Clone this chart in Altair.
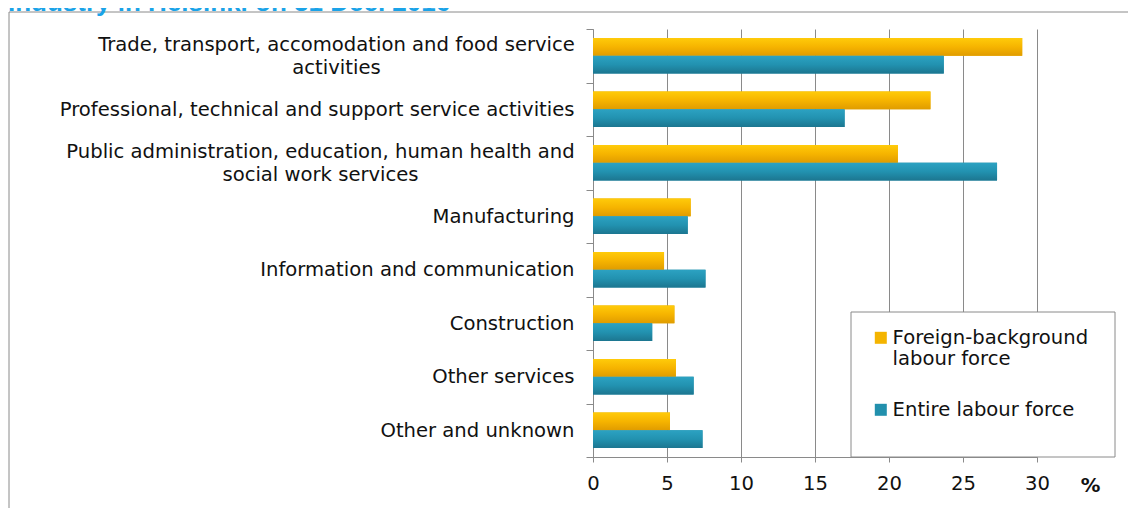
import altair as alt
import pandas as pd

# ---------------- data ----------------
categories = [
    "Trade, transport, accomodation and food service activities",
    "Professional, technical and support service activities",
    "Public administration, education, human health and social work services",
    "Manufacturing",
    "Information and communication",
    "Construction",
    "Other services",
    "Other and unknown",
]
series = ["Foreign-background labour force", "Entire labour force"]
foreign = [29.0, 22.8, 20.6, 6.6, 4.8, 5.5, 5.6, 5.2]
entire = [23.7, 17.0, 27.3, 6.4, 7.6, 4.0, 6.8, 7.4]
x_ticks = [0, 5, 10, 15, 20, 25, 30]
title_text = "Industry in Helsinki on 31 Dec. 2016"
unit_label = "%"

colors = ["#F4B400", "#2290AD"]
grad_stops = {
    series[0]: ["#FFCB0A", "#F6B400", "#E09C00"],
    series[1]: ["#2CA2C2", "#2292B0", "#1C7690"],
}

rows = []
for i, c in enumerate(categories):
    rows.append({"category": c, "series": series[0], "value": foreign[i]})
    rows.append({"category": c, "series": series[1], "value": entire[i]})
df = pd.DataFrame(rows)
one = pd.DataFrame({"k": [0]})

# wrapped y labels: lines and half-width of the first line (for centring)
wrapped = {
    categories[0]: (["Trade, transport, accomodation and food service", "activities"], 238),
    categories[2]: (["Public administration, education, human health and", "social work services"], 254),
}


def js_list(lines):
    return "[" + ", ".join("'" + s + "'" for s in lines) + "]"


label_expr = ""
for k, (v, _) in wrapped.items():
    label_expr += "datum.label == '" + k + "' ? " + js_list(v) + " : "
label_expr += "datum.label"

is_wrapped = " || ".join("datum.value == '" + k + "'" for k in wrapped)

legend_expr = ("datum.label == '" + series[0] + "' ? ['Foreign-background', 'labour force'] : [datum.label, ' ']")

FONT = "DejaVu Sans"
FS = 19.6
GRAY = "#8a8a8a"
TXT = "#111111"
LAB_PAD = 12

W, H = 444, 428

y_enc = alt.Y(
    "category:N",
    sort=categories,
    scale=alt.Scale(paddingInner=0, paddingOuter=0),
    axis=alt.Axis(
        title=None,
        labelExpr=label_expr,
        labelFont=FONT,
        labelFontSize=FS,
        labelColor=TXT,
        labelLineHeight=23,
        labelAlign={"condition": {"test": is_wrapped, "value": "center"}, "value": "right"},
        labelPadding={
            "condition": [
                {"test": "datum.value == '" + k + "'", "value": LAB_PAD + hw}
                for k, (_, hw) in wrapped.items()
            ],
            "value": LAB_PAD,
        },
        labelOffset={"condition": {"test": is_wrapped, "value": -11}, "value": 0},
        labelLimit=700,
        tickSize=7,
        tickBand="extent",
        tickColor=GRAY,
        domainColor=GRAY,
        grid=False,
    ),
)
yoff_enc = alt.YOffset("series:N", sort=series, scale=alt.Scale(paddingInner=0, paddingOuter=0.51))
x_enc = alt.X(
    "value:Q",
    scale=alt.Scale(domain=[0, 30], nice=False),
    axis=alt.Axis(
        values=x_ticks,
        format="d",
        title=unit_label,
        titleX=497,
        titleY=28,
        titleAlign="center",
        titleBaseline="middle",
        titleFont=FONT,
        titleFontSize=FS,
        titleFontWeight="bold",
        titleColor=TXT,
        labelFont=FONT,
        labelFontSize=FS,
        labelColor=TXT,
        labelPadding=12,
        labelFlush=False,
        tickSize=5,
        tickColor=GRAY,
        domainColor=GRAY,
        grid=True,
        gridColor=GRAY,
        gridWidth=1,
    ),
)

shadow = alt.Chart(df).mark_bar(
    color="#000000", opacity=0.10, x2Offset=3, y2Offset=3, yOffset=2
).encode(y=y_enc, yOffset=yoff_enc, x=x_enc)

bars = alt.Chart(df).mark_bar().encode(
    y=y_enc,
    yOffset=yoff_enc,
    x=x_enc,
    color=alt.Color(
        "series:N",
        sort=series,
        scale=alt.Scale(domain=series, range=colors),
        legend=alt.Legend(
            title=None,
            orient="none",
            legendX=278,
            legendY=299,
            labelExpr=legend_expr,
            labelFont=FONT,
            labelFontSize=FS,
            labelColor=TXT,
            labelOffset=2,
            labelLimit=400,
            symbolType="square",
            symbolSize=144,
            symbolStrokeWidth=0,
            rowPadding=30,
            padding=0,
        ),
    ),
)


def grad(cs):
    return alt.LinearGradient(
        gradient="linear",
        stops=[
            alt.GradientStop(color=cs[0], offset=0),
            alt.GradientStop(color=cs[1], offset=0.5),
            alt.GradientStop(color=cs[2], offset=1),
        ],
        x1=0, x2=0, y1=0, y2=1,
    )


shade_layers = []
for s in series:
    shade_layers.append(
        alt.Chart(df)
        .transform_filter(alt.datum.series == s)
        .mark_bar(fill=grad(grad_stops[s]))
        .encode(y=y_enc, yOffset=yoff_enc, x=x_enc)
    )

frame = alt.Chart(one).mark_rect(fillOpacity=0, stroke=GRAY, strokeWidth=1).encode(
    x=alt.value(-584), x2=alt.value(1000), y=alt.value(-17), y2=alt.value(1000)
)
legend_box = alt.Chart(one).mark_rect(fill="white", stroke=GRAY, strokeWidth=1).encode(
    x=alt.value(258), x2=alt.value(522), y=alt.value(283), y2=alt.value(428)
)
title = alt.Chart(one).mark_text(
    align="left", baseline="alphabetic", font="Liberation Sans", fontSize=26,
    fontWeight="bold", color="#1AA3E8"
).encode(x=alt.value(-585), y=alt.value(-18), text=alt.value(title_text))

chart = (
    alt.layer(frame, title, shadow, bars, *shade_layers, legend_box)
    .properties(
        width=W,
        height=H,
        autosize=alt.AutoSizeParams(type="none"),
        padding={"left": 585, "top": 21, "right": 91, "bottom": 51},
        background="white",
    )
    .configure_view(stroke=None)
)

chart.save("out.html", embed_options={"renderer": "svg", "actions": False})
